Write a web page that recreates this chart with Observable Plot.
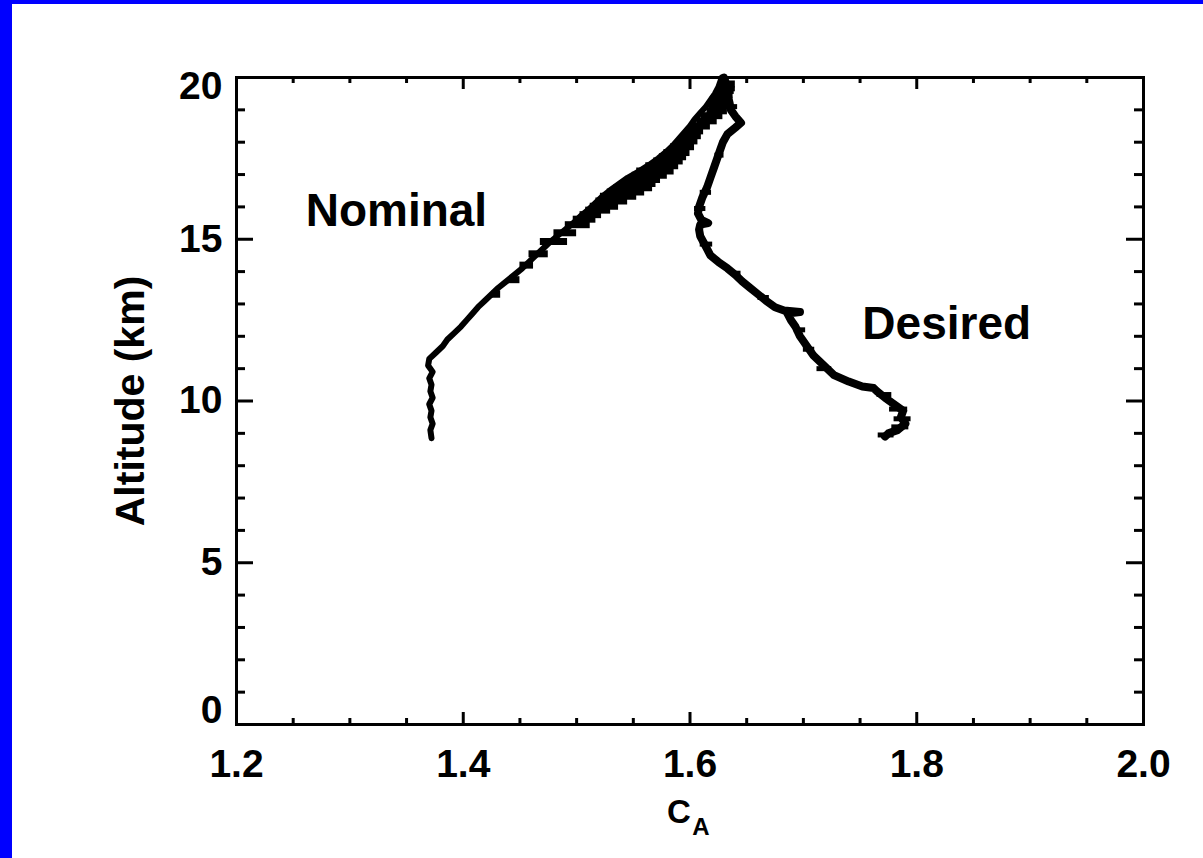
<!DOCTYPE html>
<html><head><meta charset="utf-8">
<script src="https://cdn.jsdelivr.net/npm/d3@7"></script>
<script src="https://cdn.jsdelivr.net/npm/@observablehq/plot@0.6"></script>
<style>
html,body{margin:0;padding:0;background:#fff;overflow:hidden;}
#wrap{width:1191px;height:854px;border-left:12px solid #0000ff;border-top:4px solid #0000ff;background:#fff;}
</style></head><body><div id="wrap"></div>
<script>
// Nominal profile: altitude (km) and C_A
const nominalAlt = [8.85,9.1,9.3,9.5,9.7,9.9,10.1,10.3,10.5,10.7,10.9,11.1,11.3,11.5,11.7,11.9,12.1,12.3,12.5,12.7,12.9,13.1,13.3,13.5,13.7,13.9,14.1,14.3,14.5,14.7,14.9,15.1,15.3,15.5,15.7,15.9,16.1,16.3,16.5,16.7,16.9,17.1,17.3,17.5,17.7,17.9,18.1,18.3,18.5,18.7,18.9,19.1,19.3,19.5,19.7,19.9,20.0];
const nominalCA = [1.372,1.371,1.373,1.371,1.372,1.370,1.373,1.371,1.372,1.370,1.373,1.369,1.370,1.376,1.382,1.386,1.392,1.398,1.403,1.408,1.413,1.419,1.425,1.431,1.438,1.445,1.452,1.458,1.464,1.470,1.476,1.483,1.490,1.497,1.503,1.510,1.516,1.522,1.529,1.537,1.545,1.555,1.564,1.572,1.579,1.585,1.590,1.595,1.600,1.604,1.609,1.614,1.618,1.622,1.625,1.627,1.628];
// horizontal excursions in the nominal trace
const nominalStreakAlt  = [13.3,13.75,14.2,14.55,14.93,15.2,15.45,15.62,15.76,15.9,16.02,16.18,16.33,16.46,16.59,16.72,16.85,16.98,17.11,17.27,17.42,17.55,17.68,17.86,18.04,18.2,18.35,18.5,18.66,18.82,18.97,19.15,19.33,19.47,19.6,19.8];
const nominalStreakFrom = [1.425,1.440,1.450,1.458,1.468,1.480,1.490,1.497,1.503,1.508,1.512,1.517,1.521,1.527,1.533,1.539,1.545,1.549,1.553,1.561,1.568,1.573,1.577,1.583,1.589,1.593,1.597,1.601,1.606,1.610,1.615,1.617,1.618,1.621,1.624,1.627];
const nominalStreakTo   = [1.433,1.450,1.462,1.475,1.492,1.500,1.512,1.517,1.522,1.530,1.537,1.545,1.553,1.560,1.567,1.570,1.574,1.580,1.586,1.590,1.594,1.597,1.600,1.604,1.607,1.610,1.612,1.618,1.624,1.629,1.633,1.635,1.636,1.638,1.639,1.640];

// Desired profile
const desiredAlt = [20.0,19.8,19.5,19.2,19.0,18.8,18.6,18.45,18.25,18.0,17.8,17.5,17.2,16.9,16.6,16.3,16.0,15.8,15.6,15.5,15.45,15.3,15.1,14.9,14.7,14.5,14.3,14.1,13.9,13.7,13.5,13.3,13.1,12.9,12.8,12.75,12.7,12.5,12.3,12.0,11.7,11.4,11.1,10.8,10.6,10.45,10.4,10.3,10.1,9.9,9.7,9.5,9.3,9.1,9.0,8.9];
const desiredCA = [1.630,1.632,1.633,1.635,1.636,1.640,1.645,1.640,1.633,1.629,1.627,1.624,1.621,1.618,1.615,1.611,1.608,1.607,1.610,1.616,1.609,1.608,1.609,1.612,1.615,1.618,1.625,1.633,1.640,1.646,1.653,1.660,1.667,1.675,1.683,1.697,1.686,1.689,1.693,1.697,1.703,1.709,1.718,1.727,1.740,1.752,1.762,1.765,1.772,1.780,1.788,1.786,1.790,1.783,1.775,1.772];
// small horizontal excursions in the desired trace
const desiredStreakAlt  = [19.65,19.1,17.6,16.45,15.95,14.85,13.95,13.2,12.2,11.6,11.0,10.2,9.75,9.45,9.2,8.95];
const desiredStreakFrom = [1.628,1.632,1.622,1.609,1.604,1.609,1.636,1.660,1.692,1.700,1.712,1.765,1.776,1.780,1.778,1.766];
const desiredStreakTo   = [1.640,1.642,1.630,1.619,1.614,1.620,1.645,1.670,1.702,1.710,1.725,1.778,1.792,1.795,1.793,1.780];

// Ticks
const xMajor = [1.2,1.4,1.6,1.8,2.0];
const xMinor = [1.25,1.3,1.35,1.45,1.5,1.55,1.65,1.7,1.75,1.85,1.9,1.95];
const yMajor = [0,5,10,15,20];
const yMinor = [1,2,3,4,6,7,8,9,11,12,13,14,16,17,18,19];

// Annotations
const labelText = ["Nominal","Desired"];
const labelCA = [1.261,1.752];
const labelAlt = [15.4,11.92];

const nominal = nominalAlt.map((a,i)=>({alt:a, ca:nominalCA[i]}));
const nominalStreaks = nominalStreakAlt.map((a,i)=>({alt:a, x1:nominalStreakFrom[i], x2:nominalStreakTo[i]}));
const desired = desiredAlt.map((a,i)=>({alt:a, ca:desiredCA[i]}));
const desiredStreaks = desiredStreakAlt.map((a,i)=>({alt:a, x1:desiredStreakFrom[i], x2:desiredStreakTo[i]}));
const labels = labelText.map((t,i)=>({text:t, ca:labelCA[i], alt:labelAlt[i]}));

const W = 1191, H = 854, mL = 224, mR = 60, mT = 73, mB = 134;
const innerW = W - mL - mR, innerH = H - mT - mB;
const font = "'Liberation Sans', Arial, Helvetica, sans-serif";
const tickFont = 39;

const chart = Plot.plot({
  width: W, height: H,
  marginLeft: mL, marginRight: mR, marginTop: mT, marginBottom: mB,
  x: {domain: [1.2, 2.0]},
  y: {domain: [0, 20]},
  style: {fontFamily: font, fontWeight: "bold", background: "white", color: "black", overflow: "visible"},
  marks: [
    // data
    Plot.line(nominal, {x: "ca", y: "alt", stroke: "black", strokeWidth: 6, strokeLinejoin: "round"}),
    Plot.ruleY(nominalStreaks, {y: "alt", x1: "x1", x2: "x2", stroke: "black", strokeWidth: 7}),
    Plot.line(desired, {x: "ca", y: "alt", stroke: "black", strokeWidth: 8, strokeLinejoin: "round"}),
    Plot.ruleY(desiredStreaks, {y: "alt", x1: "x1", x2: "x2", stroke: "black", strokeWidth: 5}),
    // frame
    Plot.frame({stroke: "black", strokeWidth: 3}),
    // inward ticks
    Plot.tickX(xMajor, {x: d => d, insetTop: innerH - 12, stroke: "black", strokeWidth: 3}),
    Plot.tickX(xMajor, {x: d => d, insetBottom: innerH - 12, stroke: "black", strokeWidth: 3}),
    Plot.tickX(xMinor, {x: d => d, insetTop: innerH - 6, stroke: "black", strokeWidth: 3}),
    Plot.tickX(xMinor, {x: d => d, insetBottom: innerH - 6, stroke: "black", strokeWidth: 3}),
    Plot.tickY(yMajor, {y: d => d, insetRight: innerW - 17, stroke: "black", strokeWidth: 3}),
    Plot.tickY(yMajor, {y: d => d, insetLeft: innerW - 17, stroke: "black", strokeWidth: 3}),
    Plot.tickY(yMinor, {y: d => d, insetRight: innerW - 9, stroke: "black", strokeWidth: 3}),
    Plot.tickY(yMinor, {y: d => d, insetLeft: innerW - 9, stroke: "black", strokeWidth: 3}),
    // tick labels
    Plot.axisX(xMajor, {anchor: "bottom", tickSize: 0, tickPadding: 25, tickFormat: d3.format(".1f"), fontSize: tickFont, fontWeight: "bold", label: null}),
    Plot.axisY([0], {anchor: "left", tickSize: 0, tickPadding: 14, dy: -14, fontSize: tickFont, fontWeight: "bold", label: null}),
    Plot.axisY([5,10,15], {anchor: "left", tickSize: 0, tickPadding: 14, fontSize: tickFont, fontWeight: "bold", label: null}),
    Plot.axisY([20], {anchor: "left", tickSize: 0, tickPadding: 14, dy: 9, fontSize: tickFont, fontWeight: "bold", label: null}),
    // axis titles
    Plot.text(["Altitude (km)"], {frameAnchor: "left", text: d => d, rotate: -90, dx: -93, lineAnchor: "bottom", textAnchor: "middle", fontSize: 41, fontWeight: "bold"}),
    Plot.text(["C"], {frameAnchor: "bottom", text: d => d, dx: -11, dy: 98, lineAnchor: "bottom", textAnchor: "middle", fontSize: 33, fontWeight: "bold"}),
    Plot.text(["A"], {frameAnchor: "bottom", text: d => d, dx: 11, dy: 110, lineAnchor: "bottom", textAnchor: "middle", fontSize: 24, fontWeight: "bold"}),
    // annotations
    Plot.text(labels, {x: "ca", y: "alt", text: "text", textAnchor: "start", lineAnchor: "bottom", fontSize: 46, fontWeight: "bold"})
  ]
});
document.getElementById("wrap").append(chart);
</script>
</body></html>
